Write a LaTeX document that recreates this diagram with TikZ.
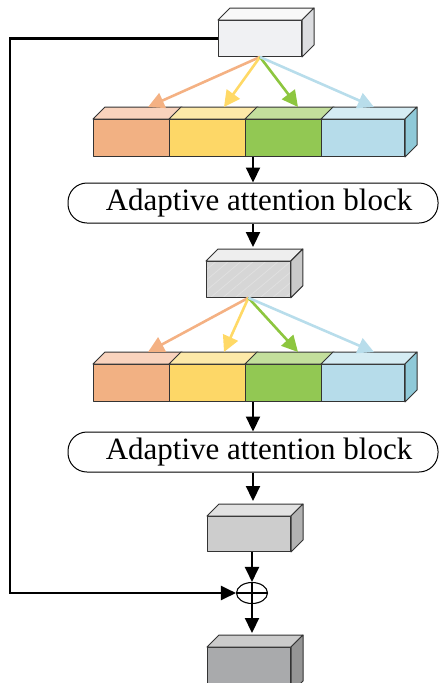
\documentclass[tikz,border=0pt]{standalone}
\usepackage{fontspec}
\setmainfont{Liberation Serif}
\usetikzlibrary{arrows.meta,shapes.geometric,patterns.meta,calc}
\definecolor{edge}{HTML}{333333}
\definecolor{inF}{HTML}{F0F1F3}\definecolor{inT}{HTML}{F8F8F8}\definecolor{inS}{HTML}{DCDDE0}
\definecolor{oF}{HTML}{F2B183}\definecolor{oT}{HTML}{F9D3BD}
\definecolor{yF}{HTML}{FDD767}\definecolor{yT}{HTML}{FDE9A8}
\definecolor{gF}{HTML}{92C853}\definecolor{gT}{HTML}{C3DF9C}
\definecolor{bF}{HTML}{B6DCEA}\definecolor{bT}{HTML}{D5ECF3}\definecolor{bS}{HTML}{8FC9D8}
\definecolor{oA}{HTML}{F4B183}\definecolor{yA}{HTML}{FFD966}\definecolor{gA}{HTML}{8DC63F}\definecolor{bA}{HTML}{B8DDEB}
\definecolor{hF}{HTML}{D6D6D6}\definecolor{hT}{HTML}{EEEEEE}\definecolor{hS}{HTML}{CACACA}\definecolor{hL}{HTML}{E0E0E0}
\definecolor{mF}{HTML}{CDCDCD}\definecolor{mT}{HTML}{E2E2E2}\definecolor{mS}{HTML}{B2B2B2}
\definecolor{dF}{HTML}{A9AAAC}\definecolor{dT}{HTML}{CBCBCB}\definecolor{dS}{HTML}{959595}
\newcommand\topface[2]{\filldraw[face,fill=#2] (#1.north west) -- ++(12,-12) -- ($(#1.north east)+(12,-12)$) -- (#1.north east) -- cycle;}
\newcommand\sideface[2]{\filldraw[face,fill=#2] (#1.north east) -- ++(12,-12) -- ($(#1.south east)+(12,-12)$) -- (#1.south east) -- cycle;}
\begin{document}
\begin{tikzpicture}[x=1pt,y=-1pt,
  face/.style={draw=edge, line width=1pt, line join=round},
  front/.style={face, rectangle, inner sep=0pt, anchor=north west},
  attn/.style={draw=black, line width=1pt, rounded corners=19pt, minimum width=370pt, minimum height=40pt, inner sep=0pt, font=\fontsize{31}{31}\selectfont},
  blk/.style={-{Triangle[width=14pt,length=15pt]}, line width=2.2pt, draw=black},
  col/.style={-{Triangle[width=16pt,length=16pt]}, line width=2.6pt},
]
\useasboundingbox (0,0) rectangle (440,683);
\clip (0,0) rectangle (440,683);

% input cube
\node[front, fill=inF, minimum width=83pt, minimum height=36pt] (in1) at (218,20) {};
\topface{in1}{inT}\sideface{in1}{inS}

% row 1
\node[front, fill=oF, minimum width=76pt, minimum height=37pt] (r1o) at (93,119) {};
\node[front, fill=yF, minimum width=76pt, minimum height=37pt] (r1y) at (169,119) {};
\node[front, fill=gF, minimum width=76pt, minimum height=37pt] (r1g) at (245,119) {};
\node[front, fill=bF, minimum width=83pt, minimum height=37pt] (r1b) at (321,119) {};
\topface{r1o}{oT}\topface{r1y}{yT}\topface{r1g}{gT}\topface{r1b}{bT}\sideface{r1b}{bS}

\coordinate (t1o) at (148,107);\coordinate (t1y) at (224,107);
\coordinate (t1g) at (298,107);\coordinate (t1b) at (374,107);
\draw[col,oA] (in1.south) -- (t1o);
\draw[col,yA] (in1.south) -- (t1y);
\draw[col,gA] (in1.south) -- (t1g);
\draw[col,bA] (in1.south) -- (t1b);

% attention block 1
\node[attn] (att1) at (253,203) {\hspace*{12pt}Adaptive attention block};
\draw[blk] (r1g.south -| att1.north) -- (att1.north);

% hatched cube
\node[front, preaction={fill=hF}, pattern={Lines[angle=40,distance=8pt,line width=0.8pt]}, pattern color=hL, minimum width=84pt, minimum height=36pt] (g1) at (206,261) {};
\topface{g1}{hT}\sideface{g1}{hS}
\coordinate (g1top) at (253,247);
\draw[blk] (att1.south) -- (g1top);

% row 2
\node[front, fill=oF, minimum width=76pt, minimum height=37pt] (r2o) at (93,364) {};
\node[front, fill=yF, minimum width=76pt, minimum height=37pt] (r2y) at (169,364) {};
\node[front, fill=gF, minimum width=76pt, minimum height=37pt] (r2g) at (245,364) {};
\node[front, fill=bF, minimum width=83pt, minimum height=37pt] (r2b) at (321,364) {};
\topface{r2o}{oT}\topface{r2y}{yT}\topface{r2g}{gT}\topface{r2b}{bT}\sideface{r2b}{bS}

\coordinate (t2o) at (148,352);\coordinate (t2y) at (224,352);
\coordinate (t2g) at (298,352);\coordinate (t2b) at (374,352);
\draw[col,oA] (g1.south) -- (t2o);
\draw[col,yA] (g1.south) -- (t2y);
\draw[col,gA] (g1.south) -- (t2g);
\draw[col,bA] (g1.south) -- (t2b);

% attention block 2
\node[attn] (att2) at (253,452) {\hspace*{12pt}Adaptive attention block};
\draw[blk] (r2g.south -| att2.north) -- (att2.north);

% mid cube
\node[front, fill=mF, minimum width=83pt, minimum height=35pt] (m1) at (207,516) {};
\topface{m1}{mT}\sideface{m1}{mS}
\coordinate (m1top) at (253,501);
\draw[blk] (att2.south) -- (m1top);

% sum
\node[ellipse, draw=black, line width=1.1pt, minimum width=31pt, minimum height=21pt, inner sep=0pt,
  path picture={\draw[line width=1.1pt] (path picture bounding box.north) -- (path picture bounding box.south)
  (path picture bounding box.west) -- (path picture bounding box.east);}] (sum) at (252,593) {};
\draw[blk] (m1.south -| sum.north) -- (sum.north);

% output cube
\node[front, fill=dF, minimum width=83pt, minimum height=45pt] (o1) at (207,647) {};
\topface{o1}{dT}\sideface{o1}{dS}
\coordinate (o1top) at (252,633);
\draw[blk] (sum.south) -- (o1top);

% feedback
\coordinate (fb) at (10,593);
\draw[blk] (in1.west) -| (fb) -- (sum.west);
\end{tikzpicture}
\end{document}
